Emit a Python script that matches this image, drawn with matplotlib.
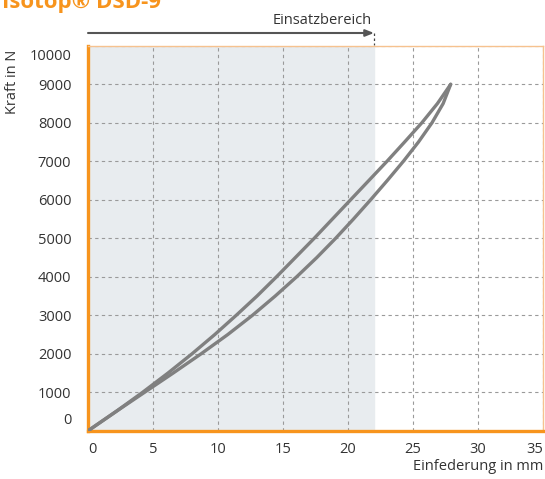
import matplotlib
matplotlib.use('Agg')
import matplotlib.pyplot as plt
import matplotlib.transforms as mtransforms

# Kennlinie: Kraft-Stufen und zugehoerige Einfederung (Be- und Entlastung)
kraft = [0, 500, 1000, 1500, 2000, 2500, 3000, 3500, 4000, 4500,
         5000, 5500, 6000, 6500, 7000, 7500, 8000, 8500, 9000]
weg_oben = [0, 2.15, 4.2, 6.15, 8.0, 9.75, 11.4, 13.0, 14.5, 15.95,
            17.4, 18.8, 20.2, 21.6, 23.0, 24.35, 25.68, 26.88, 27.9]
weg_unten = [0, 2.15, 4.35, 6.55, 8.7, 10.75, 12.65, 14.4, 16.05, 17.6,
             19.05, 20.42, 21.74, 23.02, 24.26, 25.42, 26.46, 27.32, 27.9]

einsatz_max = 22
x_ticks = [0, 5, 10, 15, 20, 25, 30, 35]
y_ticks = [0, 1000, 2000, 3000, 4000, 5000, 6000, 7000, 8000, 9000, 10000]

orange = '#f7941d'
orange_hell = '#f6c28f'
grau = '#808080'

plt.rcParams['font.family'] = ['Open Sans', 'DejaVu Sans']

fig = plt.figure(figsize=(5.45, 4.79), dpi=100)
ax = fig.add_axes([0.1615, 0.1006, 0.8348, 0.8038])

ax.axvspan(0, einsatz_max, color='#e8ecef', zorder=0)

ax.set_xlim(0, 35)
ax.set_ylim(0, 10000)
ax.set_xticks(x_ticks)
ax.set_yticks(y_ticks)
ax.grid(True, color='#9a9a9a', linestyle=(0, (3, 3)), linewidth=0.8, zorder=1)
ax.set_axisbelow(True)
ax.tick_params(length=0, labelsize=10.5, labelcolor='#333333')
ax.tick_params(axis='y', pad=12)
ax.tick_params(axis='x', pad=8)

ax.plot(weg_oben, kraft, color=grau, lw=2.4, solid_capstyle='round',
        solid_joinstyle='round', zorder=3)
ax.plot(weg_unten, kraft, color=grau, lw=2.4, solid_capstyle='round',
        solid_joinstyle='round', zorder=3)

for side in ['left', 'bottom']:
    ax.spines[side].set_color(orange)
    ax.spines[side].set_linewidth(2.4)
for side in ['top', 'right']:
    ax.spines[side].set_color(orange_hell)
    ax.spines[side].set_linewidth(1.0)

# Randbeschriftungen etwas nach innen ruecken
fig.canvas.draw()
ylabels = ax.get_yticklabels()
ylabels[0].set_transform(ylabels[0].get_transform() +
                         mtransforms.ScaledTranslation(0, 12 / 100, fig.dpi_scale_trans))
ylabels[-1].set_transform(ylabels[-1].get_transform() +
                          mtransforms.ScaledTranslation(0, -9 / 100, fig.dpi_scale_trans))
xlabels = ax.get_xticklabels()
xlabels[0].set_transform(xlabels[0].get_transform() +
                         mtransforms.ScaledTranslation(4 / 100, 0, fig.dpi_scale_trans))
xlabels[-1].set_transform(xlabels[-1].get_transform() +
                          mtransforms.ScaledTranslation(-8 / 100, 0, fig.dpi_scale_trans))

fig.text(13 / 545, 1 - 82 / 479, 'Kraft in N', rotation=90, ha='center', va='center',
         fontsize=10.5, color='#333333')
fig.text(543 / 545, 1 - 467 / 479, 'Einfederung in mm', ha='right', va='center',
         fontsize=10.5, color='#333333')

# Einsatzbereich-Pfeil oberhalb des Diagramms
trans = mtransforms.blended_transform_factory(ax.transData, fig.transFigure)
y_pfeil = 1 - 33 / 479
ax.annotate('', xy=(einsatz_max, y_pfeil), xytext=(0, y_pfeil),
            xycoords=trans, textcoords=trans,
            arrowprops=dict(arrowstyle='-|>,head_length=0.5,head_width=0.2',
                            color='#555555', lw=1.5, shrinkA=0, shrinkB=0))
ax.plot([einsatz_max, einsatz_max], [y_pfeil, 1 - 45 / 479], transform=trans,
        color='#444444', lw=0.9, linestyle=(0, (2, 2)), clip_on=False)
ax.text(einsatz_max - 0.15, 1 - 20 / 479, 'Einsatzbereich', transform=trans,
        ha='right', va='center', fontsize=10.5, color='#333333')

fig.text(2 / 545, 1 - 8 / 479, 'Isotop® DSD-9', ha='left', va='baseline',
         fontsize=16, fontweight='bold', color=orange)

fig.savefig('out.png', dpi=100)
